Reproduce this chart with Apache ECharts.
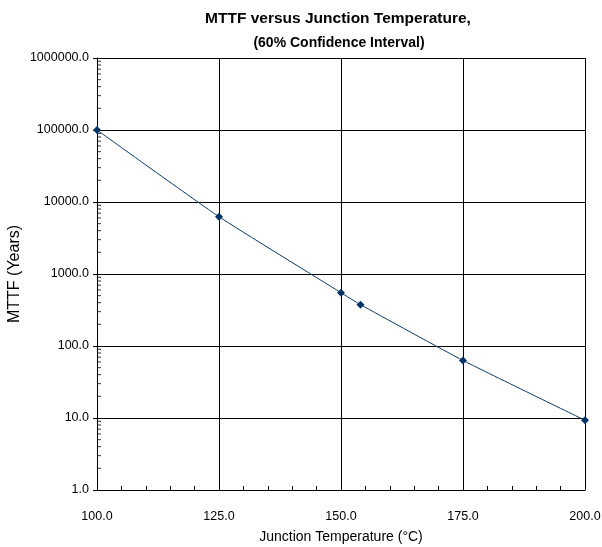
<!DOCTYPE html>
<html>
<head>
<meta charset="utf-8">
<script src="https://cdn.jsdelivr.net/npm/echarts@6/dist/echarts.min.js"></script>
<style>
  html, body { margin: 0; padding: 0; background: #fff; }
  #main { width: 602px; height: 547px; }
</style>
</head>
<body>
<div id="main"></div>
<script>
// junction temperature (degC) and MTTF (years)
var temps = [100, 125, 150, 154, 175, 200];
var mttf = [100000, 6250, 550, 375, 63, 9.3];

// log axis decades and the minor steps inside each one
var decades = [1, 10, 100, 1000, 10000, 100000];
var minorSteps = [2, 3, 4, 5, 6, 7, 8, 9];

var titleText = 'MTTF versus Junction Temperature,';
var subText = '(60% Confidence Interval)';
var xName = 'Junction Temperature (\u00b0C)';
var yName = 'MTTF (Years)';

var font = 'Liberation Sans, Arial, sans-serif';
var navy = '#0b3a6b';

var lineData = [];
for (var i = 0; i < temps.length; i++) {
    lineData.push([temps[i], mttf[i]]);
}

// minor log ticks drawn as tiny marks at the left edge of the plot
var minorData = [];
for (var d = 0; d < decades.length; d++) {
    for (var k = 0; k < minorSteps.length; k++) {
        minorData.push([temps[0], decades[d] * minorSteps[k]]);
    }
}

var chart = echarts.init(document.getElementById('main'));
chart.setOption({
    animation: false,
    title: [
        {
            text: titleText,
            left: 333,
            top: 6,
            textAlign: 'center',
            textStyle: { fontFamily: font, fontSize: 15.5, fontWeight: 'bold', color: '#000' }
        },
        {
            text: subText,
            left: 334,
            top: 31,
            textAlign: 'center',
            textStyle: { fontFamily: font, fontSize: 14, fontWeight: 'bold', color: '#000' }
        }
    ],
    grid: { left: 97, right: 17, top: 58, bottom: 57, outerBoundsMode: 'none' },
    xAxis: {
        type: 'value',
        min: 100,
        max: 200,
        interval: 25,
        name: xName,
        nameLocation: 'middle',
        nameGap: 40,
        nameMoveOverlap: false,
        nameTextStyle: { fontFamily: font, fontSize: 14, color: '#000' },
        axisLine: { lineStyle: { color: '#000', width: 1 } },
        axisTick: { show: true, inside: true, length: 4, lineStyle: { color: '#000' } },
        minorTick: { show: true, splitNumber: 5, length: 4, lineStyle: { color: '#000' } },
        splitLine: { show: true, lineStyle: { color: '#000', width: 1 } },
        axisLabel: {
            margin: 20,
            fontFamily: font,
            fontSize: 12.5,
            color: '#000',
            formatter: function (v) { return v.toFixed(1); }
        }
    },
    yAxis: {
        type: 'log',
        logBase: 10,
        min: 1,
        max: 1000000,
        name: yName,
        nameLocation: 'middle',
        nameGap: 74,
        nameMoveOverlap: false,
        nameTextStyle: { fontFamily: font, fontSize: 16, color: '#000' },
        axisLine: { show: true, lineStyle: { color: '#000', width: 1 } },
        axisTick: { show: true, length: 4, lineStyle: { color: '#000' } },
        splitLine: { show: true, lineStyle: { color: '#000', width: 1 } },
        axisLabel: {
            margin: 8,
            fontFamily: font,
            fontSize: 12.5,
            color: '#000',
            formatter: function (v) { return Number(v).toFixed(1); }
        }
    },
    series: [
        {
            name: 'minor ticks',
            type: 'scatter',
            silent: true,
            clip: false,
            symbol: 'rect',
            symbolSize: [4, 1],
            symbolOffset: [2, 0],
            itemStyle: { color: '#000' },
            data: minorData
        },
        {
            name: 'MTTF',
            type: 'line',
            smooth: 0.15,
            data: lineData,
            symbol: 'diamond',
            symbolSize: 8,
            clip: false,
            lineStyle: { color: navy, width: 1 },
            itemStyle: { color: '#003366' }
        }
    ]
});
</script>
</body>
</html>
